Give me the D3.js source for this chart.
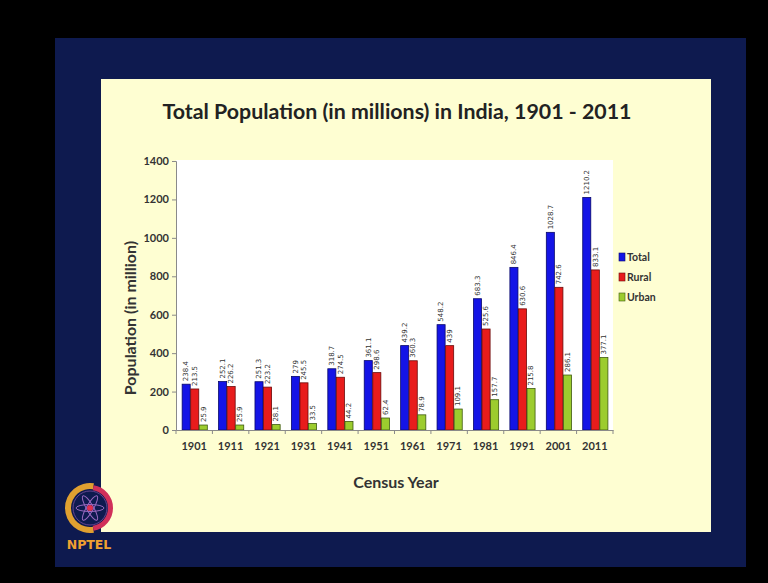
<!DOCTYPE html>
<html>
<head>
<meta charset="utf-8">
<script src="https://cdn.jsdelivr.net/npm/d3@7/dist/d3.min.js"></script>
<style>
  html, body { margin: 0; padding: 0; background: #000; }
  svg { display: block; }
</style>
</head>
<body>
<svg id="chart" width="768" height="583"></svg>
<script>
const years = ["1901","1911","1921","1931","1941","1951","1961","1971","1981","1991","2001","2011"];
const seriesNames = ["Total","Rural","Urban"];
const total = [238.4, 252.1, 251.3, 279, 318.7, 361.1, 439.2, 548.2, 683.3, 846.4, 1028.7, 1210.2];
const rural = [213.5, 226.2, 223.2, 245.5, 274.5, 298.6, 360.3, 439, 525.6, 630.6, 742.6, 833.1];
const urban = [25.9, 25.9, 28.1, 33.5, 44.2, 62.4, 78.9, 109.1, 157.7, 215.8, 286.1, 377.1];
const yTicks = [0, 200, 400, 600, 800, 1000, 1200, 1400];
const titleText = "Total Population (in millions) in India, 1901 - 2011";
const yTitle = "Population (in million)";
const xTitle = "Census Year";

const colors = { Total: "#1414e6", Rural: "#e81c1c", Urban: "#9ccc2e" };
const strokes = { Total: "#08086a", Rural: "#6a0a0a", Urban: "#3e5a10" };
const valuesBySeries = { Total: total, Rural: rural, Urban: urban };

const svg = d3.select("#chart");
const W = 768, H = 583;

// background layers
svg.append("rect").attr("width", W).attr("height", H).attr("fill", "#000");
svg.append("rect").attr("x", 55).attr("y", 38).attr("width", 691).attr("height", 529).attr("fill", "#0e1a4f");
svg.append("rect").attr("x", 101).attr("y", 79).attr("width", 610).attr("height", 453).attr("fill", "#fefed2");

// scales
const x = d3.scaleBand().domain(years).range([176, 613]).paddingInner(0).paddingOuter(0);
const bw = x.bandwidth();
const x1 = d3.scaleBand().domain(seriesNames).range([bw * 0.155, bw * 0.86]).padding(0);
const y = d3.scaleLinear().domain([0, 1400]).range([430, 161]);

// plot area
svg.append("rect").attr("x", 176).attr("y", 160).attr("width", 613 - 176).attr("height", 430 - 160).attr("fill", "#ffffff");

// title
svg.append("text")
  .attr("x", 397).attr("y", 119)
  .attr("text-anchor", "middle")
  .attr("font-family", "Lato, 'Open Sans', sans-serif")
  .attr("font-weight", "bold")
  .attr("font-size", 21)
  .attr("fill", "#222")
  .attr("textLength", 469)
  .attr("lengthAdjust", "spacingAndGlyphs")
  .text(titleText);

// bars
const rows = years.map((yr, i) => ({ year: yr, vals: seriesNames.map(s => ({ s, v: valuesBySeries[s][i] })) }));
const g = svg.append("g");
const groups = g.selectAll("g.grp").data(rows).join("g")
  .attr("transform", d => `translate(${x(d.year)},0)`);
groups.selectAll("rect").data(d => d.vals).join("rect")
  .attr("x", d => x1(d.s) + 0.5)
  .attr("y", d => y(d.v))
  .attr("width", x1.bandwidth() - 0.5)
  .attr("height", d => y(0) - y(d.v))
  .attr("fill", d => colors[d.s])
  .attr("stroke", d => strokes[d.s])
  .attr("stroke-width", 0.8);

// value labels (rotated)
groups.selectAll("text.val").data(d => d.vals).join("text")
  .attr("class", "val")
  .attr("transform", d => `translate(${x1(d.s) + x1.bandwidth() / 2 + 2.5},${y(d.v) - 3}) rotate(-90)`)
  .attr("font-family", "'DejaVu Sans', sans-serif")
  .attr("font-size", 7)
  .attr("fill", "#333")
  .text(d => String(d.v));

// y axis
const yAxis = svg.append("g").attr("transform", "translate(176,0)")
  .call(d3.axisLeft(y).tickValues(yTicks).tickSize(4).tickPadding(3).tickFormat(d3.format("d")));
yAxis.select(".domain").attr("stroke", "#8a8a8a");
yAxis.selectAll(".tick line").attr("stroke", "#8a8a8a");
yAxis.selectAll(".tick text")
  .attr("font-family", "Lato, 'Open Sans', sans-serif")
  .attr("font-weight", "bold")
  .attr("font-size", 11)
  .attr("fill", "#333");

// x axis
const xAxis = svg.append("g").attr("transform", "translate(0,430)")
  .call(d3.axisBottom(x).tickSize(0).tickPadding(12));
xAxis.select(".domain").attr("stroke", "#8a8a8a");
xAxis.selectAll(".tick text")
  .attr("font-family", "Lato, 'Open Sans', sans-serif")
  .attr("font-weight", "bold")
  .attr("font-size", 11)
  .attr("fill", "#333");
// boundary ticks
const bounds = years.map(yr => x(yr)).concat([x.range()[1]]);
xAxis.selectAll("line.bt").data(bounds).join("line")
  .attr("class", "bt")
  .attr("x1", d => d).attr("x2", d => d)
  .attr("y1", 0).attr("y2", 4)
  .attr("stroke", "#8a8a8a");

// axis titles
svg.append("text")
  .attr("transform", "translate(136,318) rotate(-90)")
  .attr("text-anchor", "middle")
  .attr("font-family", "Lato, 'Open Sans', sans-serif")
  .attr("font-weight", "bold")
  .attr("font-size", 16)
  .attr("fill", "#333")
  .text(yTitle);
svg.append("text")
  .attr("x", 396).attr("y", 488)
  .attr("text-anchor", "middle")
  .attr("font-family", "Lato, 'Open Sans', sans-serif")
  .attr("font-weight", "bold")
  .attr("font-size", 16)
  .attr("fill", "#333")
  .text(xTitle);

// legend
const leg = svg.append("g").attr("transform", "translate(619,253)");
const li = leg.selectAll("g").data(seriesNames).join("g")
  .attr("transform", (d, i) => `translate(0,${i * 20})`);
li.append("rect").attr("x", 0).attr("y", 0).attr("width", 6).attr("height", 8)
  .attr("fill", d => colors[d]).attr("stroke", d => strokes[d]).attr("stroke-width", 0.6);
li.append("text").attr("x", 8).attr("y", 8)
  .attr("font-family", "Lato, 'Open Sans', sans-serif")
  .attr("font-weight", "bold")
  .attr("font-size", 10.5)
  .attr("fill", "#333")
  .text(d => d);

// NPTEL logo (decorative)
const logo = svg.append("g").attr("transform", "translate(90,508)");
const arcGen = d3.arc();
logo.append("circle").attr("r", 19).attr("fill", "#0e1a4f");
logo.append("path")
  .attr("d", arcGen({ innerRadius: 19, outerRadius: 25, startAngle: Math.PI * 0.95, endAngle: Math.PI * 2.05 }))
  .attr("fill", "#e0a030");
logo.append("path")
  .attr("d", arcGen({ innerRadius: 18, outerRadius: 23, startAngle: Math.PI * 0.05, endAngle: Math.PI * 0.95 }))
  .attr("fill", "#d0305a");
logo.append("circle").attr("r", 17).attr("fill", "none").attr("stroke", "#7a4fa0").attr("stroke-width", 0.8);
[0, 60, 120].forEach(a => {
  logo.append("ellipse").attr("rx", 14).attr("ry", 3.5)
    .attr("transform", `rotate(${a})`)
    .attr("fill", "none").attr("stroke", "#9a6ac0").attr("stroke-width", 1);
});
logo.append("circle").attr("r", 3).attr("fill", "#e03050");
svg.append("text")
  .attr("x", 89).attr("y", 549)
  .attr("text-anchor", "middle")
  .attr("font-family", "'DejaVu Sans', sans-serif")
  .attr("font-weight", "bold")
  .attr("font-size", 12.5)
  .attr("fill", "#f0a030")
  .text("NPTEL");
</script>
</body>
</html>
